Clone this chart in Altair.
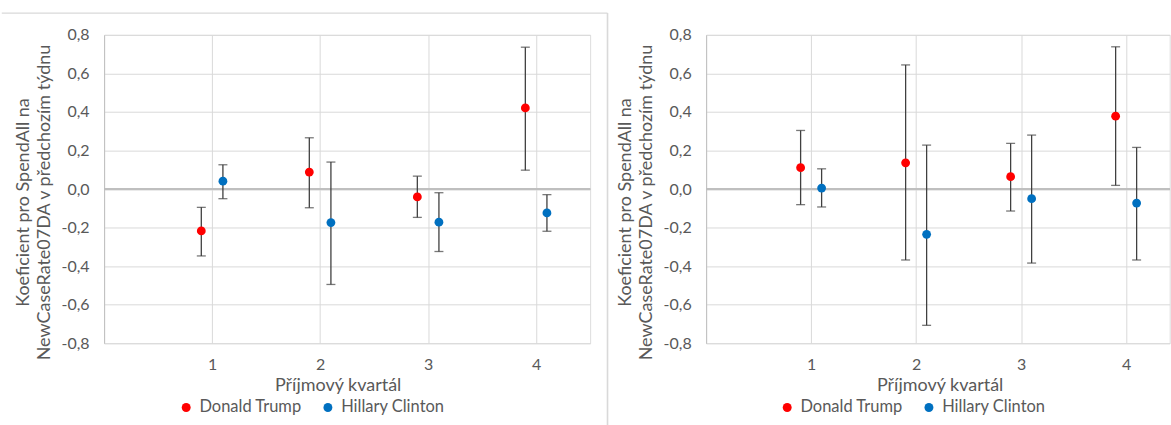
import altair as alt
import pandas as pd

# ---------------- data ----------------
quartile_ticks = [1, 2, 3, 4]
candidates = ["Donald Trump", "Hillary Clinton"]
trump_x = [0.9, 1.9, 2.9, 3.9]
clinton_x = [1.1, 2.1, 3.1, 4.1]
y_ticks = [-0.8, -0.6, -0.4, -0.2, 0.0, 0.2, 0.4, 0.6, 0.8]

# left panel
left_trump = [-0.217, 0.088, -0.041, 0.421]
left_trump_lo = [-0.347, -0.097, -0.147, 0.098]
left_trump_hi = [-0.095, 0.266, 0.067, 0.736]
left_clinton = [0.041, -0.174, -0.172, -0.124]
left_clinton_lo = [-0.050, -0.495, -0.324, -0.219]
left_clinton_hi = [0.126, 0.140, -0.019, -0.029]

# right panel
right_trump = [0.111, 0.136, 0.064, 0.378]
right_trump_lo = [-0.081, -0.368, -0.114, 0.019]
right_trump_hi = [0.304, 0.644, 0.237, 0.738]
right_clinton = [0.005, -0.235, -0.050, -0.073]
right_clinton_lo = [-0.093, -0.707, -0.384, -0.368]
right_clinton_hi = [0.105, 0.228, 0.280, 0.216]

y_title = ["Koeficient pro SpendAll na", "NewCaseRate07DA v předchozím týdnu"]
x_title = "Příjmový kvartál"

TXT = "#595959"
GRID = "#D9D9D9"
AXIS = "#BFBFBF"
ERR = "#404040"
FONT = "Lato"


def make_df(t, tlo, thi, c, clo, chi):
    rows = []
    for i in range(4):
        rows.append({"cand": candidates[0], "x": trump_x[i], "coef": t[i], "lo": tlo[i], "hi": thi[i]})
    for i in range(4):
        rows.append({"cand": candidates[1], "x": clinton_x[i], "coef": c[i], "lo": clo[i], "hi": chi[i]})
    return pd.DataFrame(rows)


left_df = make_df(left_trump, left_trump_lo, left_trump_hi, left_clinton, left_clinton_lo, left_clinton_hi)
right_df = make_df(right_trump, right_trump_lo, right_trump_hi, right_clinton, right_clinton_lo, right_clinton_hi)

one = pd.DataFrame({"a": [0]})

PLOT_H = 309


def panel(df, width, xmax, legend_x, frame):
    xscale = alt.Scale(domain=[0, xmax], nice=False, zero=False)
    yscale = alt.Scale(domain=[-0.8, 0.8], nice=False, zero=False)
    xaxis = alt.Axis(values=quartile_ticks, grid=True, gridColor=GRID, gridWidth=1,
                     domain=False, ticks=False, labelFont=FONT, labelFontSize=16,
                     labelColor=TXT, labelPadding=13, title=x_title, titleFont=FONT,
                     titleFontSize=18, titleFontWeight="normal", titleColor=TXT,
                     titlePadding=4, titleX=234)
    yaxis = alt.Axis(values=y_ticks, grid=True, gridColor=GRID, gridWidth=1,
                     domain=True, domainColor=AXIS, domainWidth=1, ticks=False,
                     labelExpr="(datum.value < -0.001 ? '-' : '') + replace(format(abs(datum.value), '.1f'), '.', ',')",
                     labelFont=FONT, labelFontSize=16, labelColor=TXT, labelPadding=15,
                     title=y_title, titleFont=FONT, titleFontSize=18, titleFontWeight="normal",
                     titleColor=TXT, titleX=-81, titleY=167.5, titleBaseline="middle",
                     titleLineHeight=21)
    X = alt.X("x:Q", scale=xscale, axis=xaxis)
    base = alt.Chart(df)

    zero = base.mark_rule(color=AXIS, strokeWidth=1).encode(
        y=alt.Y(datum=0, type="quantitative", scale=yscale, axis=yaxis))
    bars = base.mark_rule(color=ERR, strokeWidth=1.3).encode(
        x=X, y=alt.Y("lo:Q", scale=yscale, axis=yaxis), y2="hi:Q")
    cap_lo = base.mark_tick(orient="horizontal", size=9, thickness=1.3, color=ERR).encode(
        x=X, y=alt.Y("lo:Q", scale=yscale, axis=yaxis))
    cap_hi = base.mark_tick(orient="horizontal", size=9, thickness=1.3, color=ERR).encode(
        x=X, y=alt.Y("hi:Q", scale=yscale, axis=yaxis))
    pts = base.mark_circle(size=78, opacity=1).encode(
        x=X, y=alt.Y("coef:Q", scale=yscale, axis=yaxis),
        color=alt.Color("cand:N", scale=alt.Scale(domain=candidates, range=["#FF0000", "#0070C0"]),
                        legend=alt.Legend(orient="none", legendX=legend_x, legendY=365,
                                          direction="horizontal", title=None, symbolType="circle",
                                          symbolSize=80, symbolStrokeWidth=0, labelFont=FONT,
                                          labelFontSize=16.5, labelColor=TXT, labelOffset=5,
                                          columnPadding=17)))
    layers = [zero, bars, cap_lo, cap_hi, pts] + frame
    return alt.layer(*layers).properties(width=width, height=PLOT_H)


FRAME = "#D9D9D9"
left_frame = [
    alt.Chart(one).mark_rule(color=FRAME, strokeWidth=1.2).encode(
        x=alt.value(-102.5), x2=alt.value(504.4), y=alt.value(-21.8)),
    alt.Chart(one).mark_rule(color=FRAME, strokeWidth=1.6).encode(
        x=alt.value(504.4), y=alt.value(-21.8), y2=alt.value(395)),
]

left = panel(left_df, 487, 4.5, 74, left_frame)
right = panel(right_df, 464.5, 4.415, 73, [])

chart = alt.hconcat(left, right, spacing=116.2, bounds="flush").resolve_scale(
    color="independent").resolve_legend(color="independent").properties(
    padding={"left": 0.3, "top": 10.5, "right": 0, "bottom": 0}
).configure_view(strokeWidth=0).configure(font=FONT)

chart.save("out.html", embed_options={"renderer": "svg", "actions": False})
